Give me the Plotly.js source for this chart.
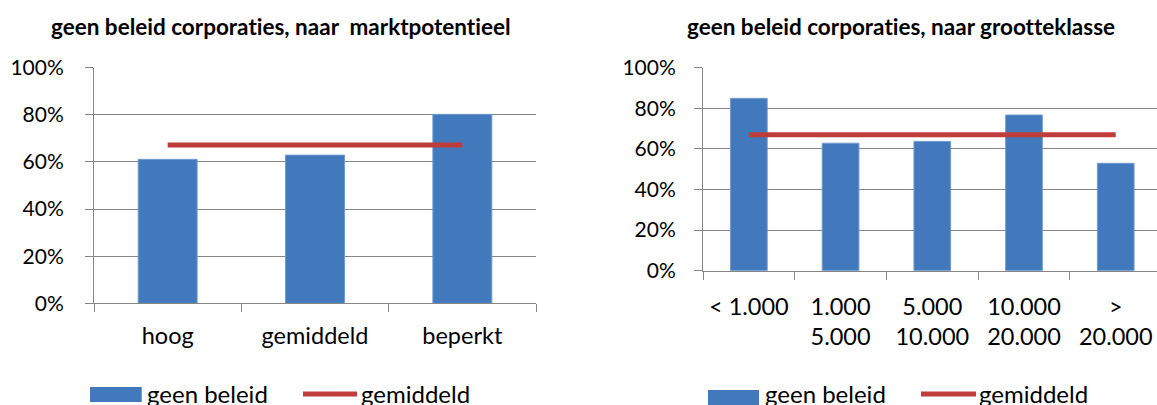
<!DOCTYPE html>
<html>
<head>
<meta charset="utf-8">
<script src="https://cdn.plot.ly/plotly-3.0.1.min.js"></script>
<style>
html,body{margin:0;padding:0;background:#fff;}
#chart{width:1157px;height:405px;}
svg text{font-variant-ligatures:none;font-feature-settings:"liga" 0,"dlig" 0;}
</style>
</head>
<body>
<div id="chart"></div>
<script>
// ---- data ----
const marktCategories = ["hoog", "gemiddeld", "beperkt"];
const marktGeenBeleid = [0.611, 0.629, 0.802];
const marktGemiddeld = [0.672, 0.672, 0.672];

const grootteCategories = ["< 1.000", "1.000<br>5.000", "5.000<br>10.000", "10.000<br>20.000", "><br>20.000"];
const grootteGeenBeleid = [0.849, 0.628, 0.637, 0.767, 0.529];
const grootteGemiddeld = [0.670, 0.670, 0.670, 0.670, 0.670];

const yTickValues = [0, 0.2, 0.4, 0.6, 0.8, 1.0];

const titleLeft = "geen beleid corporaties, naar  marktpotentieel";
const titleRight = "geen beleid corporaties, naar grootteklasse";
const seriesNames = ["geen beleid", "gemiddeld"];

// ---- style ----
const W = 1157, H = 405;
const BLUE = "#4279bc";
const RED = "#be3d3a";
const GRID = "#868686";
const FONT = "Lato, 'Open Sans', sans-serif";
const px = x => x / W;
const py = y => 1 - y / H;

const traces = [
  {type: "bar", x: marktCategories, y: marktGeenBeleid, name: seriesNames[0],
   xaxis: "x", yaxis: "y", marker: {color: BLUE, line: {color: "#6f9bd0", width: 1}}},
  {type: "scatter", mode: "lines", x: marktCategories, y: marktGemiddeld, name: seriesNames[1],
   xaxis: "x", yaxis: "y", line: {color: RED, width: 5}},
  {type: "bar", x: grootteCategories, y: grootteGeenBeleid, name: seriesNames[0],
   xaxis: "x2", yaxis: "y2", marker: {color: BLUE, line: {color: "#6f9bd0", width: 1}}},
  {type: "scatter", mode: "lines", x: grootteCategories, y: grootteGemiddeld, name: seriesNames[1],
   xaxis: "x2", yaxis: "y2", line: {color: RED, width: 5}}
];

const commonX = {
  type: "category", showline: true, linecolor: GRID, linewidth: 1,
  ticks: "outside", ticklen: 8, tickcolor: GRID, tickwidth: 1,
  tickson: "boundaries", showgrid: false, zeroline: false,
  tickfont: {family: FONT, size: 23.5, color: "#000"}, fixedrange: true
};
const commonY = {
  range: [0, 1], tickvals: yTickValues, tickformat: ".0%",
  showline: true, linecolor: GRID, linewidth: 1,
  ticks: "outside", ticklen: 8, tickcolor: GRID, tickwidth: 1,
  showgrid: true, gridcolor: GRID, gridwidth: 1, zeroline: false,
  tickfont: {family: FONT, size: 21, color: "#000"}, fixedrange: true
};

const legendFont = {family: FONT, size: 24, color: "#000"};
const titleFont = {family: FONT, size: 22.5, color: "#000"};

const layout = {
  width: W, height: H,
  margin: {l: 0, r: 0, t: 0, b: 0},
  paper_bgcolor: "#fff", plot_bgcolor: "#fff",
  showlegend: false, bargap: 0.6,
  xaxis: Object.assign({}, commonX, {domain: [px(94), px(536)], anchor: "y", range: [-0.5, 2.5], ticklabelstandoff: 11}),
  yaxis: Object.assign({}, commonY, {domain: [py(303.3), py(67.7)], anchor: "x", ticklabelstandoff: 17}),
  xaxis2: Object.assign({}, commonX, {domain: [px(703), 1], anchor: "y2", range: [-0.5, 4.45], ticklabelstandoff: 15}),
  yaxis2: Object.assign({}, commonY, {domain: [py(270.7), py(67.7)], anchor: "x2", ticklabelstandoff: 14}),
  annotations: [
    {text: "<b>" + titleLeft + "</b>", xref: "paper", yref: "paper", x: px(281), y: py(26), xanchor: "center", yanchor: "middle",
     showarrow: false, font: titleFont, borderpad: 0},
    {text: "<b>" + titleRight + "</b>", xref: "paper", yref: "paper", x: px(901), y: py(26), xanchor: "center", yanchor: "middle",
     showarrow: false, font: titleFont, borderpad: 0},
    {text: seriesNames[0], xref: "paper", yref: "paper", x: px(146), y: py(393), xanchor: "left", yanchor: "middle",
     showarrow: false, font: legendFont, borderpad: 0},
    {text: seriesNames[1], xref: "paper", yref: "paper", x: px(360), y: py(393), xanchor: "left", yanchor: "middle",
     showarrow: false, font: legendFont, borderpad: 0},
    {text: seriesNames[0], xref: "paper", yref: "paper", x: px(764), y: py(393), xanchor: "left", yanchor: "middle",
     showarrow: false, font: legendFont, borderpad: 0},
    {text: seriesNames[1], xref: "paper", yref: "paper", x: px(978), y: py(393), xanchor: "left", yanchor: "middle",
     showarrow: false, font: legendFont, borderpad: 0}
  ],
  shapes: [
    {type: "rect", xref: "paper", yref: "paper", x0: px(90), x1: px(141.7), y0: py(402), y1: py(387), fillcolor: BLUE, line: {width: 0}},
    {type: "line", xref: "paper", yref: "paper", x0: px(303), x1: px(357), y0: py(394), y1: py(394), line: {color: RED, width: 5}},
    {type: "rect", xref: "paper", yref: "paper", x0: px(708), x1: px(759), y0: py(405), y1: py(390), fillcolor: BLUE, line: {width: 0}},
    {type: "line", xref: "paper", yref: "paper", x0: px(921), x1: px(976), y0: py(394), y1: py(394), line: {color: RED, width: 5}}
  ]
};

Plotly.newPlot("chart", traces, layout, {displayModeBar: false, staticPlot: true});
</script>
</body>
</html>
